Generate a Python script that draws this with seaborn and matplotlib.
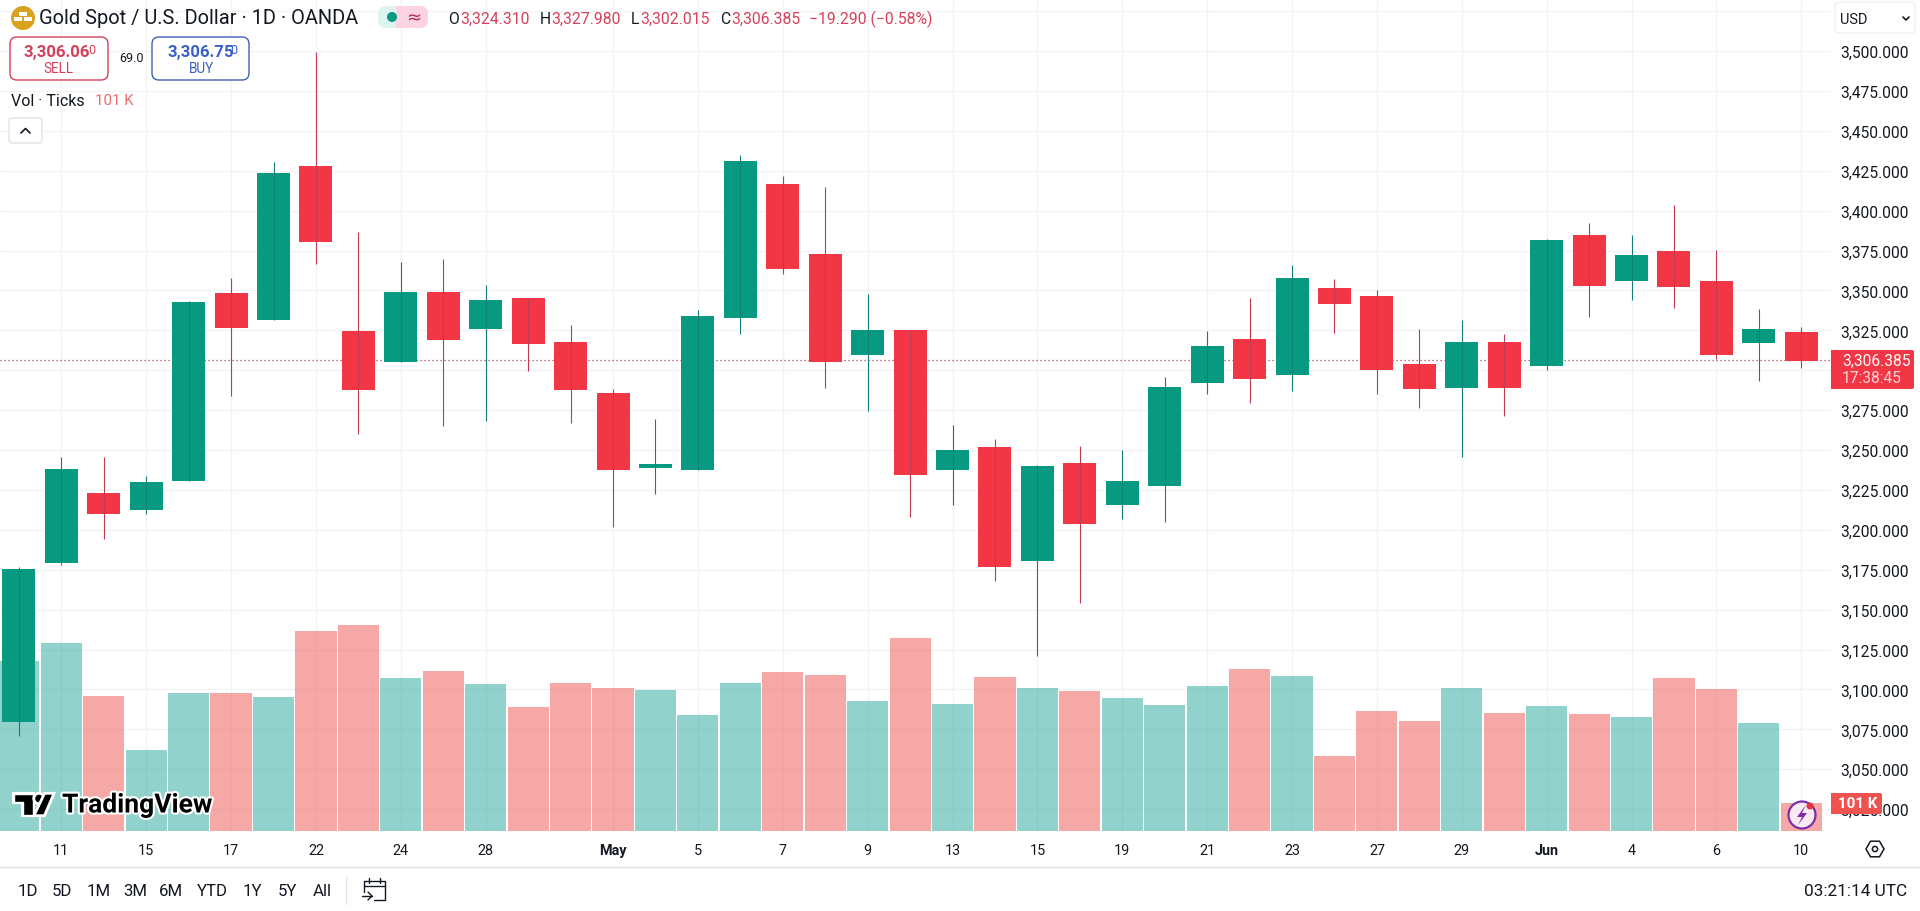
import matplotlib
matplotlib.use('Agg')
import matplotlib.pyplot as plt
import matplotlib.patheffects as pe
from matplotlib.patches import Circle, FancyBboxPatch, Polygon, Rectangle
from matplotlib.ticker import FixedLocator, FuncFormatter
import numpy as np
import pandas as pd
import seaborn as sns

# Daily candles, oldest first
opens = [3080.1, 3180.1, 3223.8, 3212.8, 3230.9, 3348.9, 3332.0, 3428.3, 3325.1, 3306.0, 3349.4,
         3326.5, 3345.7, 3318.3, 3286.1, 3239.3, 3238.2, 3333.4, 3417.2, 3373.4, 3310.1, 3325.6,
         3238.2, 3252.4, 3181.2, 3242.3, 3216.1, 3228.0, 3292.6, 3320.0, 3297.8, 3352.0, 3347.0,
         3304.5, 3289.6, 3318.3, 3303.4, 3385.3, 3356.7, 3375.3, 3356.5, 3317.9, 3324.31]
highs = [3177.3, 3246.2, 3246.2, 3234.5, 3343.8, 3358.1, 3431.1, 3500.0, 3386.9, 3368.3, 3370.6,
         3353.9, 3345.7, 3328.9, 3288.7, 3269.9, 3338.4, 3435.6, 3422.4, 3415.5, 3348.5, 3325.6,
         3266.3, 3257.4, 3241.0, 3253.1, 3250.5, 3296.5, 3325.0, 3346.0, 3366.5, 3357.6, 3350.9,
         3326.5, 3331.9, 3323.3, 3383.1, 3392.8, 3385.3, 3404.0, 3375.8, 3338.8, 3327.98]
lows = [3071.3, 3178.3, 3194.7, 3210.8, 3230.9, 3284.3, 3332.0, 3367.2, 3260.8, 3306.0, 3265.9,
        3268.8, 3300.2, 3267.5, 3202.3, 3223.0, 3238.2, 3323.5, 3361.1, 3289.6, 3275.1, 3208.4,
        3216.0, 3168.4, 3121.3, 3154.6, 3207.3, 3205.6, 3285.9, 3280.1, 3287.6, 3323.9, 3285.9,
        3277.0, 3246.4, 3272.0, 3300.8, 3333.9, 3344.7, 3339.7, 3307.7, 3293.9, 3302.015]
closes = [3176.3, 3238.8, 3210.8, 3230.7, 3343.2, 3327.2, 3424.4, 3381.0, 3288.4, 3349.4, 3319.5,
          3344.4, 3317.2, 3288.3, 3238.2, 3241.6, 3334.5, 3431.7, 3364.1, 3305.8, 3325.6, 3235.0,
          3250.5, 3177.3, 3240.3, 3204.3, 3231.0, 3290.0, 3315.7, 3295.2, 3358.3, 3342.3, 3300.8,
          3288.9, 3318.3, 3289.6, 3382.2, 3353.5, 3372.7, 3352.9, 3310.3, 3326.3, 3306.385]
# Volume in thousands of ticks
volumes = [624, 692, 495, 298, 506, 506, 492, 736, 758, 561, 587, 539, 455, 543, 525, 517, 426,
           543, 583, 572, 477, 707, 466, 565, 525, 514, 488, 462, 532, 594, 568, 276, 441, 404,
           525, 433, 459, 430, 419, 561, 521, 397, 101]

tick_positions = [1, 3, 5, 7, 9, 11, 14, 16, 18, 20, 22, 24, 26, 28, 30, 32, 34, 36, 38, 40, 42]
tick_labels = ['11', '15', '17', '22', '24', '28', 'May', '5', '7', '9', '13', '15', '19', '21',
               '23', '27', '29', 'Jun', '4', '6', '10']
price_ticks = list(range(3025, 3550, 25))
hidden_prices = [3300, 3525]  # behind the price tag and the currency box
range_buttons = ['1D', '5D', '1M', '3M', '6M', 'YTD', '1Y', '5Y', 'All']
button_centers = [28, 62, 99, 135, 171, 212, 252, 287, 322]

UP = '#089981'
DOWN = '#F23645'
WICK_UP = '#12807A'
WICK_DOWN = '#C23A50'
VOL_UP = '#26A69A'
VOL_DOWN = '#EF5350'
GRID = '#F2F3F5'
INK = '#131722'
TEXT_RED = '#D5405A'

sns.set_theme(style='white')
plt.rcParams['font.family'] = ['Roboto', 'DejaVu Sans']

df = pd.DataFrame({'open': opens, 'high': highs, 'low': lows, 'close': closes, 'volume': volumes})
df['idx'] = np.arange(len(df))
df['side'] = np.where(df['close'] >= df['open'], 'up', 'down')

W, H = 1920, 912
PANE_W, PANE_H = 1831, 832
fig = plt.figure(figsize=(W / 100, H / 100), dpi=100, facecolor='white')

# Grid and labels sit on the back axes, volume over them, candles on top
ax = fig.add_axes([0, (H - PANE_H) / H, PANE_W / W, PANE_H / H])
ax_vol = ax.twinx()
ax_candle = ax.twinx()

ax.set_ylim(3011.3, 3532.6)
ax_candle.set_ylim(3011.9, 3533.2)
ax_vol.set_ylim(0, 3055)

sns.barplot(data=df, x='idx', y='volume', hue='side', palette={'up': VOL_UP, 'down': VOL_DOWN},
            native_scale=True, dodge=False, width=0.97, alpha=0.5, saturation=1, linewidth=0,
            legend=False, ax=ax_vol)

wick_colors = df['side'].map({'up': WICK_UP, 'down': WICK_DOWN})
body_colors = df['side'].map({'up': UP, 'down': DOWN})
ax_candle.vlines(df['idx'], df['low'], df['high'], colors=wick_colors, linewidth=0.8)
ax_candle.bar(df['idx'], (df['close'] - df['open']).abs(), bottom=df[['open', 'close']].min(axis=1),
              width=0.777, color=body_colors, linewidth=0)

last_close = closes[-1]
ax.axhline(last_close, color='#B83A4B', linewidth=0.9, linestyle=(0, (1, 2.2)))

ax.set_xlim(-0.445, 42.70)
ax.yaxis.tick_right()
ax.yaxis.set_major_locator(FixedLocator(price_ticks))
ax.yaxis.set_major_formatter(FuncFormatter(lambda v, _: '' if v in hidden_prices else f'{v:,.3f}'))
ax.set_xticks(tick_positions)
ax.set_xticklabels(tick_labels)
ax.tick_params(axis='y', length=0, pad=7, labelsize=11.2, labelcolor=INK)
ax.tick_params(axis='x', length=0, pad=9, labelsize=10.4, labelcolor=INK)
for lab in ax.get_xticklabels():
    if lab.get_text() in ('May', 'Jun'):
        lab.set_fontweight('bold')
ax.grid(True, color=GRID, linewidth=1.0)
ax.set_axisbelow(True)

for a in (ax, ax_vol, ax_candle):
    a.set_xlabel('')
    a.set_ylabel('')
    for spine in a.spines.values():
        spine.set_visible(False)
ax_vol.patch.set_visible(False)
ax_candle.patch.set_visible(False)
ax_vol.set_yticks([])
ax_candle.set_yticks([])

# Overlay in pixel coordinates for the toolbar, badges and logo
ui = fig.add_axes([0, 0, 1, 1], zorder=10)
ui.set_xlim(0, W)
ui.set_ylim(H, 0)
ui.axis('off')


def label(x, y, s, px, color=INK, ha='left', weight='normal', **kw):
    return ui.text(x, y, s, fontsize=px * 0.72, color=color, ha=ha, va='center', fontweight=weight, **kw)


def box(x0, y0, x1, y1, face='white', edge='none', lw=1.0, radius=4):
    ui.add_patch(FancyBboxPatch((x0 + radius, y0 + radius), x1 - x0 - 2 * radius, y1 - y0 - 2 * radius,
                                boxstyle=f'round,pad={radius}', facecolor=face, edgecolor=edge, linewidth=lw))


# Header line
ui.add_patch(Circle((23, 19), 12, facecolor='#D9A11E', edgecolor='none'))
for bx, by in [(18, 20), (28, 20), (23, 15)]:
    ui.add_patch(Rectangle((bx - 4, by - 2), 8, 4, facecolor='white', edgecolor='none'))
label(39, 19, 'Gold Spot / U.S. Dollar · 1D · OANDA', 20)
box(378, 7, 410, 29, face='#DFF3EF', radius=8)
box(398, 7, 428, 29, face='#FBD3E1', radius=8)
ui.add_patch(Rectangle((396, 7), 7, 22, facecolor='#FBD3E1', edgecolor='none'))
ui.add_patch(Circle((392, 18), 5, facecolor=UP, edgecolor='none'))
label(414, 18, '≈', 18, color='#B02A5C', ha='center', family=['DejaVu Sans'])

for x, s, c in [(448, 'O', INK), (460, '3,324.310', TEXT_RED), (540, 'H', INK), (551, '3,327.980', TEXT_RED),
                (631, 'L', INK), (640, '3,302.015', TEXT_RED), (720, 'C', INK), (731, '3,306.385', TEXT_RED),
                (809, '−19.290 (−0.58%)', TEXT_RED)]:
    label(x, 19, s, 15.8, color=c)

# Sell / buy badges
box(10, 38, 108, 81, edge='#D5405A', radius=7)
label(24, 52, '3,306.06', 16.8, color=TEXT_RED, weight='bold')
label(88, 50, '0', 12.5, color=TEXT_RED)
label(59, 69, 'SELL', 13.5, color=TEXT_RED, ha='center')
label(131, 59, '69.0', 12.5, ha='center')
box(152, 38, 249, 81, edge='#3B62B5', radius=7)
label(167, 52, '3,306.75', 16.8, color='#3A5FC8', weight='bold')
label(230, 50, '0', 12.5, color='#3A5FC8')
label(201, 69, 'BUY', 13.5, color='#3A5FC8', ha='center')

label(11, 101, 'Vol · Ticks', 16)
label(95, 101, '101 K', 15, color='#EE6A68')
box(9, 119, 42, 144, edge='#E0E3EB', radius=3)
ui.plot([21, 25.5, 30], [134, 129.5, 134], color=INK, lw=1.2)

# Currency box and price tags
box(1835, 3, 1915, 34, edge='#EFF1F5', radius=4)
label(1840, 20, 'USD', 14.5)
ui.plot([1903, 1906, 1909], [18, 21, 18], color=INK, lw=1.2)
ui.add_patch(FancyBboxPatch((1833, 353), 79, 35, boxstyle='round,pad=2', facecolor=DOWN, edgecolor='none'))
ui.add_patch(Rectangle((1831, 351), 6, 39, facecolor=DOWN, edgecolor='none'))
label(1842, 361, '3,306.385', 15.5, color='white')
label(1842, 379, '17:38:45', 15.5, color='#FBD3D7')
ui.add_patch(FancyBboxPatch((1833, 796), 47, 17, boxstyle='round,pad=2', facecolor=VOL_DOWN, edgecolor='none'))
ui.add_patch(Rectangle((1831, 794), 6, 21, facecolor=VOL_DOWN, edgecolor='none'))
label(1858, 804, '101 K', 15, color='white', ha='center', weight='bold')

# Watermark
stroke = [pe.withStroke(linewidth=3, foreground='white')]
logo = [Polygon([(14, 795), (33, 795), (33, 816), (23, 816), (23, 803), (14, 803)], facecolor='black'),
        Circle((39, 799.5), 4.5, facecolor='black'),
        Polygon([(45, 795), (53, 795), (44, 816), (35, 816)], facecolor='black')]
for part in logo:
    part.set_path_effects(stroke)
    ui.add_patch(part)
label(62, 806, 'TradingView', 26.5, color='black', weight='bold', path_effects=stroke)

# Assistant badge on the last volume bar
ui.add_patch(Circle((1802, 816), 13.5, facecolor='#FBE9F1', edgecolor='#7B2FA8', linewidth=1.6))
ui.add_patch(Polygon([(1806, 806), (1797, 818), (1802, 818), (1798, 826), (1807, 814), (1802, 814)],
                     facecolor='#7B2FA8', edgecolor='none'))
ui.add_patch(Circle((1810, 807), 3.5, facecolor='#E0344A', edgecolor='none'))

# Settings hexagon next to the date axis
angles = np.deg2rad(np.arange(0, 360, 60))
ui.add_patch(Polygon(np.c_[1875 + 9 * np.cos(angles), 850 + 9 * np.sin(angles)], closed=True,
                     facecolor='none', edgecolor=INK, linewidth=1.1))
ui.add_patch(Circle((1875, 850), 2.6, facecolor='none', edgecolor=INK, linewidth=1.1))

# Bottom toolbar
ui.plot([0, W], [868, 868], color='#E0E3EB', lw=1.0)
for cx, s in zip(button_centers, range_buttons):
    label(cx, 892, s, 16.8, ha='center')
ui.plot([346, 346], [878, 905], color='#E0E3EB', lw=1.0)
ui.plot([364, 364, 385, 385, 374], [893, 882, 882, 901, 901], color=INK, lw=1.0)
ui.plot([364, 385], [887, 887], color=INK, lw=1.0)
ui.plot([369, 369], [879, 884], color=INK, lw=1.0)
ui.plot([380, 380], [879, 884], color=INK, lw=1.0)
ui.plot([362, 372], [897, 897], color=INK, lw=1.0)
ui.plot([368, 372, 368], [893, 897, 901], color=INK, lw=1.0)
label(1907, 892, '03:21:14 UTC', 17.3, ha='right')

fig.savefig('out.png', dpi=100, facecolor='white')
